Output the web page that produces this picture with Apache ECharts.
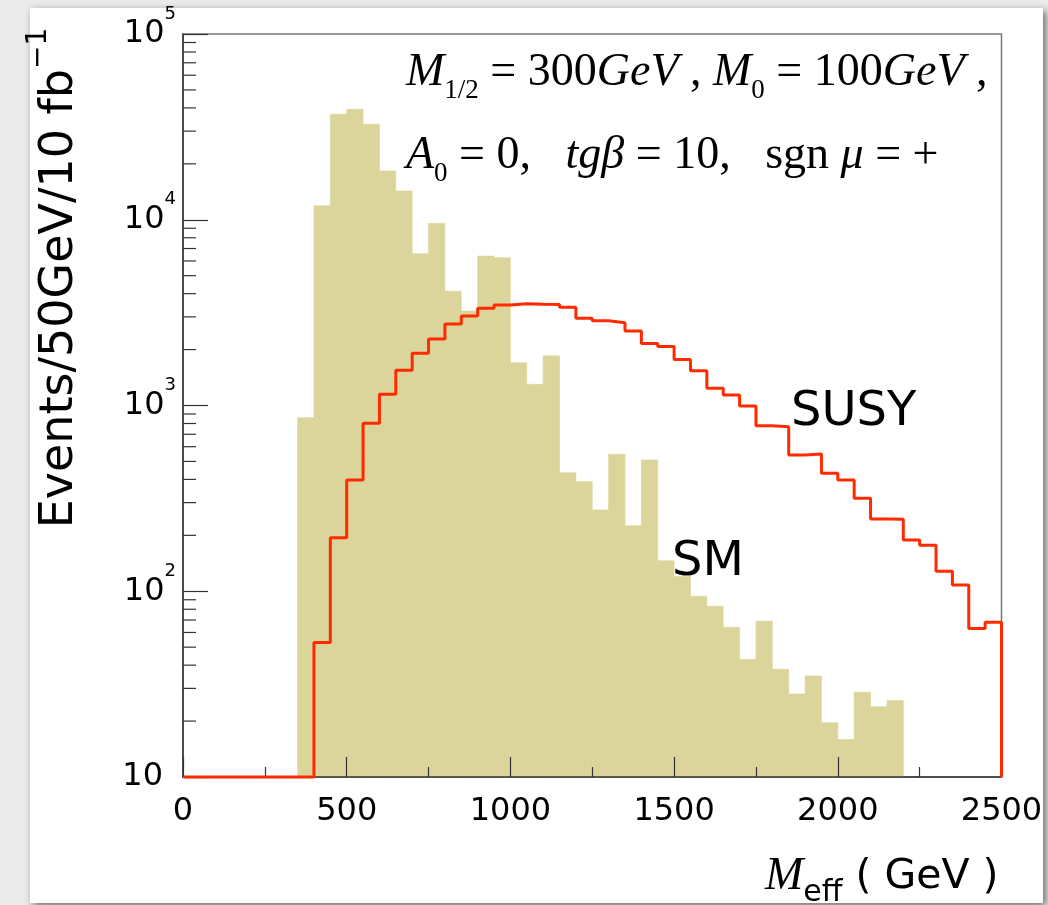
<!DOCTYPE html>
<html><head><meta charset="utf-8">
<script src="https://cdn.jsdelivr.net/npm/echarts@6/dist/echarts.min.js"></script>
<style>html,body{margin:0;padding:0;background:#ebebeb;}#c{width:1048px;height:905px;}</style>
</head><body><div id="c"></div>
<script>
// ---- data ----
const binWidth = 50;
const smStart = 350;
const smValues = [860, 11900, 37000, 39300, 32700, 18300, 14300, 6560, 9570, 4120, 3230, 6380, 6250,
  1700, 1300, 1850, 435, 389, 274, 546, 225, 509, 146, 120, 94, 83, 64, 43, 69, 38, 28, 35,
  19.6, 15.9, 28.6, 23.9, 25.8];
const susyStart = 400;
const susyValues = [53, 194, 397, 802, 1150, 1550, 1910, 2280, 2750, 3030, 3340, 3480, 3530, 3510,
  3500, 3380, 2950, 2860, 2790, 2520, 2160, 2080, 1770, 1540, 1240, 1140, 994, 778, 769, 541, 548,
  432, 397, 317, 245, 244, 189, 177, 128, 108, 63, 68];
const xMin = 0, xMax = 2500, xInterval = 500;
const yMin = 10, yMax = 100000;
const yMinorMultipliers = [2, 3, 4, 5, 6, 7, 8, 9];
const yDecades = [10, 100, 1000, 10000];

// ---- derived ----
const smData = smValues.map((v, i) => [smStart + i * binWidth, smStart + (i + 1) * binWidth, v]);
const susyLine = [[xMin, yMin], [susyStart, yMin]];
susyValues.forEach((v, i) => {
  susyLine.push([susyStart + i * binWidth, v]);
  susyLine.push([susyStart + (i + 1) * binWidth, v]);
});
susyLine.push([susyStart + susyValues.length * binWidth, yMin]);
const minorTicks = [];
yDecades.forEach(d => yMinorMultipliers.forEach(m => minorTicks.push([xMin, d * m])));

const smColor = '#dbd59b';
const red = '#ff2a00';
const axisColor = '#333';

const chart = echarts.init(document.getElementById('c'));
chart.setOption({
  backgroundColor: '#ebebeb',
  animation: false,
  grid: { left: 183, right: 46.5, top: 34, bottom: 128, show: true, borderColor: '#777', borderWidth: 1.5, backgroundColor: 'transparent' },
  xAxis: {
    type: 'value', min: xMin, max: xMax, interval: xInterval, z: 10,
    axisLine: { lineStyle: { color: axisColor, width: 1.5 } },
    axisTick: { inside: true, length: 20, lineStyle: { color: axisColor, width: 1.2 } },
    minorTick: { show: true, splitNumber: 2, length: 10, lineStyle: { color: axisColor, width: 1.2 } },
    splitLine: { show: false },
    axisLabel: { fontFamily: 'DejaVu Sans', fontSize: 32, lineHeight: 32, color: '#000', margin: 19,
      formatter: v => String(v) }
  },
  yAxis: {
    type: 'log', logBase: 10, min: yMin, max: yMax, z: 10,
    axisLine: { show: true, lineStyle: { color: axisColor, width: 1.5 } },
    axisTick: { show: true, inside: true, length: 25, lineStyle: { color: axisColor, width: 1.2 } },
    splitLine: { show: false },
    axisLabel: {
      margin: 7,
      formatter: v => {
        const e = Math.round(Math.log10(v));
        return e === 1 ? '{b|10}{sp| }' : '{b|10}{sup|' + e + '}';
      },
      rich: {
        b: { fontFamily: 'DejaVu Sans', fontSize: 32, lineHeight: 58, color: '#000', verticalAlign: 'middle' },
        sup: { fontFamily: 'DejaVu Sans', fontSize: 18, lineHeight: 18, color: '#000', verticalAlign: 'top' },
        sp: { fontFamily: 'DejaVu Sans', fontSize: 18, lineHeight: 18, width: 13 }
      }
    }
  },
  series: [
    {
      type: 'custom', name: 'SM', z: 2,
      data: smData,
      encode: { x: [0, 1], y: 2 },
      renderItem: (params, api) => {
        const p0 = api.coord([api.value(0), api.value(2)]);
        const p1 = api.coord([api.value(1), yMin]);
        return { type: 'rect', shape: { x: p0[0], y: p0[1], width: p1[0] - p0[0], height: p1[1] - p0[1] },
          style: { fill: smColor, stroke: smColor, lineWidth: 0.6 } };
      }
    },
    {
      type: 'line', name: 'SUSY', z: 20, clip: false,
      data: susyLine, showSymbol: false, symbol: 'none',
      lineStyle: { color: red, width: 3 }
    },
    {
      type: 'custom', name: 'minorTicks', z: 11, silent: true,
      data: minorTicks,
      encode: { x: 0, y: 1 },
      renderItem: (params, api) => {
        const p = api.coord([api.value(0), api.value(1)]);
        return { type: 'line', shape: { x1: p[0], y1: p[1], x2: p[0] + 13, y2: p[1] },
          style: { stroke: axisColor, lineWidth: 1.2 } };
      }
    }
  ],
  graphic: { elements: [
    { type: 'rect', z: -10, shape: { x: 30, y: 8, width: 1013, height: 895 },
      style: { fill: '#fff', shadowBlur: 8, shadowColor: 'rgba(0,0,0,0.55)', shadowOffsetX: 3, shadowOffsetY: 3 } },
    { type: 'text', z: 100, x: 60, y: 278, rotation: Math.PI / 2,
      style: { text: '{t|Events/50GeV/10 fb}{sup|\u22121}', align: 'center', verticalAlign: 'middle',
        rich: {
          t: { fontFamily: 'DejaVu Sans', fontSize: 46, lineHeight: 70, fill: '#000', verticalAlign: 'middle' },
          sup: { fontFamily: 'DejaVu Sans', fontSize: 28, lineHeight: 28, fill: '#000', verticalAlign: 'top' }
        } } },
    { type: 'text', z: 100, x: 765, y: 877,
      style: { text: '{m|M}{s|eff}{n| ( GeV )}', align: 'left', verticalAlign: 'middle',
        rich: {
          m: { fontFamily: 'Liberation Serif', fontStyle: 'italic', fontSize: 46, lineHeight: 62, fill: '#000', verticalAlign: 'middle' },
          s: { fontFamily: 'DejaVu Sans', fontSize: 30, lineHeight: 30, fill: '#000', verticalAlign: 'bottom' },
          n: { fontFamily: 'DejaVu Sans', fontSize: 41, lineHeight: 62, fill: '#000', verticalAlign: 'middle' }
        } } },
    { type: 'text', z: 100, x: 406, y: 73,
      style: { text: '{i|M}{s|1/2}{n| = 300}{i|GeV}{n| , }{i|M}{s|0}{n| = 100}{i|GeV}{n| ,}', align: 'left', verticalAlign: 'middle',
        rich: {
          i: { fontFamily: 'Liberation Serif', fontStyle: 'italic', fontSize: 46, lineHeight: 63, fill: '#000', verticalAlign: 'middle' },
          n: { fontFamily: 'Liberation Serif', fontSize: 46, lineHeight: 63, fill: '#000', verticalAlign: 'middle' },
          s: { fontFamily: 'Liberation Serif', fontSize: 27, lineHeight: 27, fill: '#000', verticalAlign: 'bottom' }
        } } },
    { type: 'text', z: 100, x: 406, y: 156,
      style: { text: '{i|A}{s|0}{n| = 0,   }{i|tg\u03b2}{n| = 10,   sgn }{i|\u03bc}{n| = +}', align: 'left', verticalAlign: 'middle',
        rich: {
          i: { fontFamily: 'Liberation Serif', fontStyle: 'italic', fontSize: 46, lineHeight: 63, fill: '#000', verticalAlign: 'middle' },
          n: { fontFamily: 'Liberation Serif', fontSize: 46, lineHeight: 63, fill: '#000', verticalAlign: 'middle' },
          s: { fontFamily: 'Liberation Serif', fontSize: 27, lineHeight: 27, fill: '#000', verticalAlign: 'bottom' }
        } } },
    { type: 'text', z: 100, x: 791, y: 413,
      style: { text: 'SUSY', fontFamily: 'DejaVu Sans', fontSize: 48, fill: '#000', align: 'left', verticalAlign: 'middle' } },
    { type: 'text', z: 100, x: 672, y: 563,
      style: { text: 'SM', fontFamily: 'DejaVu Sans', fontSize: 48, fill: '#000', align: 'left', verticalAlign: 'middle' } }
  ] }
});
</script>
</body></html>
